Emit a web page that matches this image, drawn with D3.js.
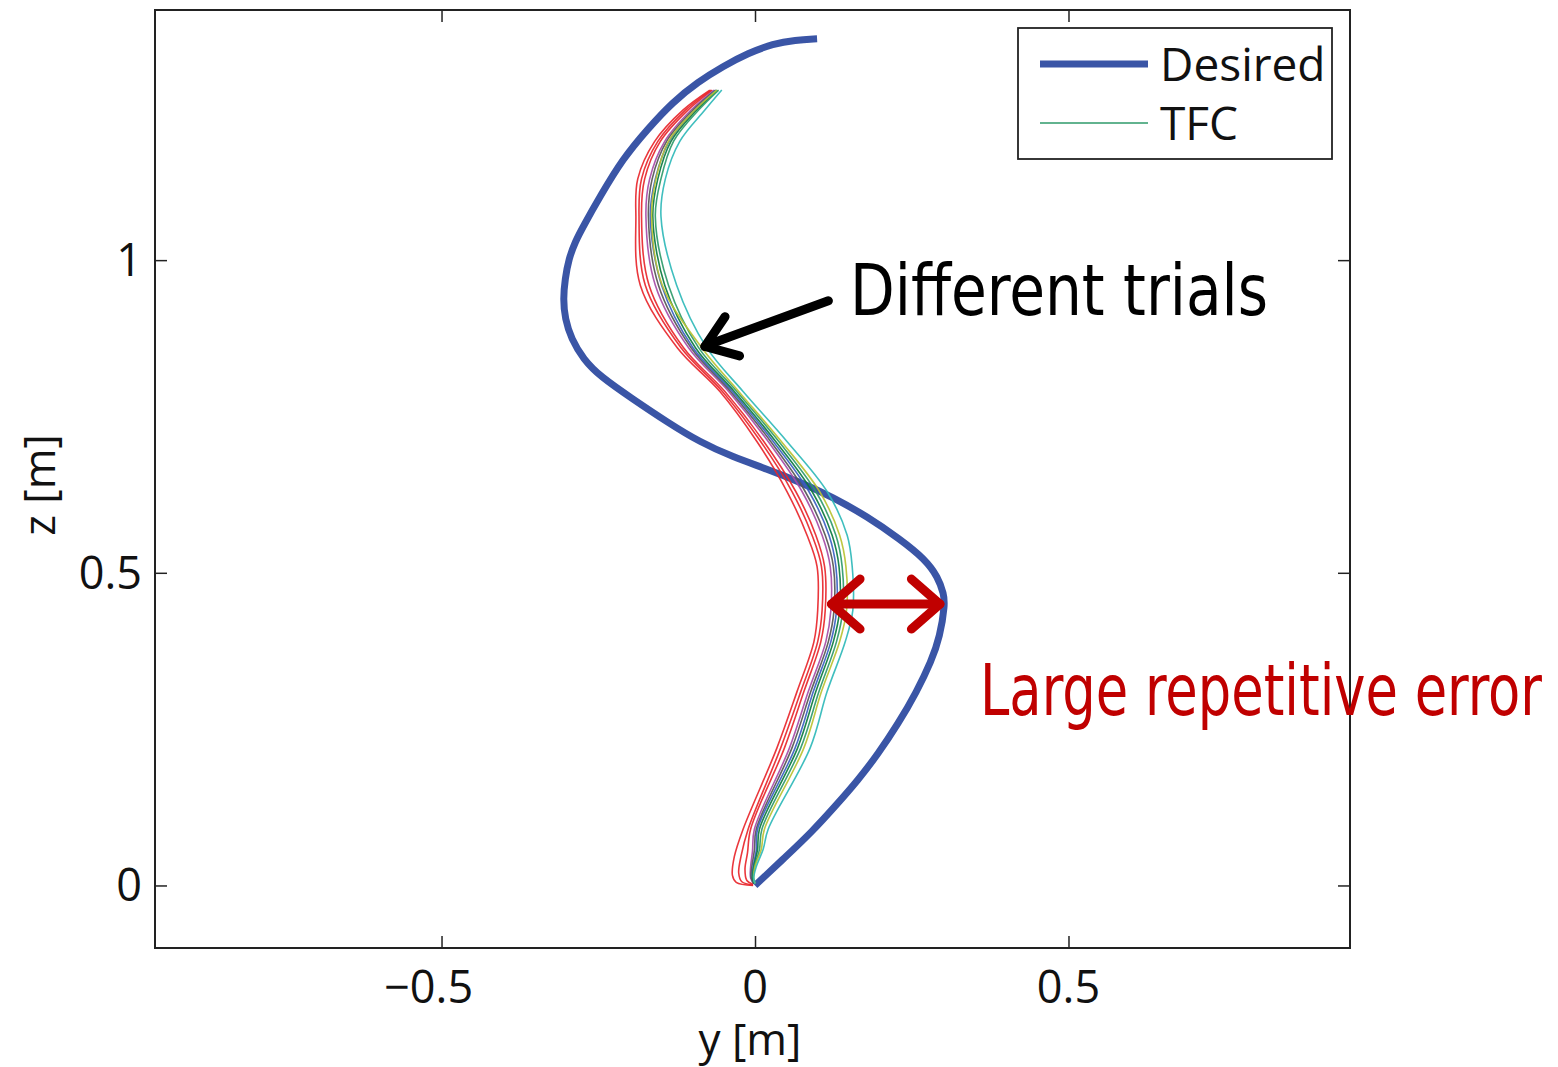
<!DOCTYPE html>
<html>
<head>
<meta charset="utf-8">
<script src="https://cdn.jsdelivr.net/npm/d3@7"></script>
<style>
  html, body { margin: 0; padding: 0; background: #fff; }
  svg { display: block; }
</style>
</head>
<body>
<svg id="chart" width="1558" height="1067"></svg>
<script>
// Desired trajectory in the y-z plane [y, z] (metres)
const desired = [
  [0.000, 0.000], [0.048, 0.045], [0.091, 0.086], [0.129, 0.128], [0.164, 0.168],
  [0.196, 0.210], [0.228, 0.258], [0.258, 0.310], [0.281, 0.358], [0.295, 0.398],
  [0.303, 0.450], [0.301, 0.466], [0.292, 0.493], [0.271, 0.522], [0.231, 0.554],
  [0.179, 0.590], [0.124, 0.621], [0.072, 0.645], [0.019, 0.666], [-0.035, 0.685],
  [-0.088, 0.709], [-0.140, 0.741], [-0.195, 0.778], [-0.247, 0.814], [-0.274, 0.842],
  [-0.293, 0.874], [-0.303, 0.906], [-0.306, 0.938], [-0.303, 0.970], [-0.297, 1.002],
  [-0.287, 1.029], [-0.274, 1.054], [-0.247, 1.102], [-0.211, 1.162], [-0.171, 1.210],
  [-0.131, 1.253], [-0.091, 1.285], [-0.051, 1.310], [-0.011, 1.331], [0.029, 1.346],
  [0.064, 1.352], [0.099, 1.354]
];

// TFC trials: heights shared by all trials, then each trial's y at those heights
const trialZ = [0.09, 0.22, 0.31, 0.39, 0.44, 0.51, 0.56, 0.63, 0.71, 0.79, 0.86, 0.96, 1.07, 1.13, 1.19, 1.24, 1.272];

// start of each trial near the origin (the small hook at the bottom)
const trialStarts = [
  [[-0.003, 0.000], [-0.030, 0.005], [-0.036, 0.016], [-0.033, 0.046]],
  [[-0.003, 0.001], [-0.021, 0.006], [-0.026, 0.020], [-0.022, 0.048]],
  [[-0.003, 0.002], [-0.013, 0.008], [-0.016, 0.026], [-0.012, 0.052]],
  [[-0.002, 0.003], [-0.007, 0.012], [-0.007, 0.030], [-0.004, 0.055]],
  [[-0.002, 0.003], [-0.006, 0.012], [-0.005, 0.030], [-0.001, 0.056]],
  [[-0.001, 0.003], [-0.004, 0.012], [-0.003, 0.030], [0.002, 0.056]],
  [[-0.001, 0.003], [-0.004, 0.012], [-0.002, 0.030], [0.004, 0.057]],
  [[0.000, 0.003], [-0.003, 0.012], [-0.001, 0.030], [0.007, 0.057]],
  [[0.000, 0.003], [-0.002, 0.012], [0.000, 0.030], [0.010, 0.058]],
  [[0.000, 0.003], [-0.002, 0.012], [0.002, 0.030], [0.013, 0.058]]
];

const trialY = [
  [-0.019, 0.035, 0.067, 0.094, 0.100, 0.099, 0.083, 0.051, 0.003, -0.056, -0.124, -0.183, -0.190, -0.187, -0.160, -0.115, -0.072],
  [-0.011, 0.041, 0.073, 0.100, 0.107, 0.106, 0.091, 0.059, 0.009, -0.052, -0.118, -0.175, -0.185, -0.181, -0.155, -0.111, -0.070],
  [-0.007, 0.047, 0.078, 0.105, 0.112, 0.111, 0.097, 0.065, 0.014, -0.048, -0.114, -0.169, -0.181, -0.176, -0.151, -0.107, -0.068],
  [-0.001, 0.055, 0.085, 0.113, 0.121, 0.120, 0.107, 0.075, 0.021, -0.042, -0.106, -0.159, -0.174, -0.168, -0.144, -0.102, -0.065],
  [0.002, 0.059, 0.089, 0.117, 0.126, 0.125, 0.112, 0.080, 0.025, -0.039, -0.102, -0.154, -0.170, -0.164, -0.141, -0.099, -0.063],
  [0.004, 0.064, 0.093, 0.121, 0.130, 0.129, 0.118, 0.086, 0.029, -0.036, -0.099, -0.149, -0.167, -0.159, -0.137, -0.096, -0.062],
  [0.007, 0.068, 0.097, 0.125, 0.135, 0.134, 0.123, 0.091, 0.033, -0.033, -0.095, -0.144, -0.163, -0.155, -0.134, -0.093, -0.060],
  [0.011, 0.073, 0.102, 0.130, 0.140, 0.139, 0.129, 0.097, 0.038, -0.029, -0.090, -0.138, -0.159, -0.150, -0.130, -0.090, -0.058],
  [0.015, 0.078, 0.106, 0.135, 0.146, 0.145, 0.135, 0.103, 0.042, -0.026, -0.085, -0.148, -0.165, -0.158, -0.138, -0.096, -0.061],
  [0.021, 0.088, 0.115, 0.144, 0.156, 0.155, 0.147, 0.115, 0.051, -0.019, -0.077, -0.125, -0.150, -0.143, -0.120, -0.080, -0.053]
];

const trialColors = ["#e8262b", "#e8262b", "#e8262b", "#a64ca6", "#555555", "#3a5fc0", "#0b7a3e", "#2e9a6a", "#b8c232", "#2fb8b8"];

const xTicks = [-0.5, 0, 0.5];
const yTicks = [0, 0.5, 1];
const xTickLabels = ["\u22120.5", "0", "0.5"];
const yTickLabels = ["0", "0.5", "1"];
const legendLabels = ["Desired", "TFC"];

// annotation anchors in data units
const trialsArrow = { from: [0.117, 0.935], to: [-0.080, 0.862] };
const errorArrow = { from: [0.122, 0.450], to: [0.295, 0.450] };

const svg = d3.select("#chart");
const W = 1558, H = 1067;
const m = { left: 155, top: 10, right: W - 1350, bottom: H - 948 };
const pw = W - m.left - m.right, ph = H - m.top - m.bottom;

const x = d3.scaleLinear().domain([-0.957, 0.949]).range([m.left, m.left + pw]);
const y = d3.scaleLinear().domain([-0.1, 1.4]).range([m.top + ph, m.top]);

const tickFont = "'Open Sans', 'Liberation Sans', sans-serif";

// plot area
const plot = svg.append("g");
plot.append("clipPath").attr("id", "clip").append("rect")
  .attr("x", m.left).attr("y", m.top).attr("width", pw).attr("height", ph);

const smoothLine = d3.line().x(d => x(d[0])).y(d => y(d[1])).curve(d3.curveBasis);
const line = d3.line().x(d => x(d[0])).y(d => y(d[1])).curve(d3.curveCatmullRom.alpha(0.5));

const curves = plot.append("g").attr("clip-path", "url(#clip)");

curves.append("path")
  .datum(desired)
  .attr("d", smoothLine)
  .attr("fill", "none")
  .attr("stroke", "#3a55a6")
  .attr("stroke-width", 7)
  .attr("stroke-linecap", "butt")
  .attr("stroke-linejoin", "round");

trialY.forEach((ys, i) => {
  const pts = trialStarts[i].concat(ys.map((v, k) => [v, trialZ[k]]));
  curves.append("path")
    .datum(pts)
    .attr("d", line)
    .attr("fill", "none")
    .attr("stroke", trialColors[i])
    .attr("stroke-width", 1.6)
    .attr("stroke-opacity", 0.92);
});

// axes box with inward ticks on all sides
const axes = svg.append("g");
const tickLen = 12;
const axBottom = d3.axisBottom(x).tickValues(xTicks).tickSize(-tickLen).tickFormat("");
const axTop = d3.axisTop(x).tickValues(xTicks).tickSize(-tickLen).tickFormat("");
const axLeft = d3.axisLeft(y).tickValues(yTicks).tickSize(-tickLen).tickFormat("");
const axRight = d3.axisRight(y).tickValues(yTicks).tickSize(-tickLen).tickFormat("");
[[axBottom, `translate(0,${m.top + ph})`], [axTop, `translate(0,${m.top})`],
 [axLeft, `translate(${m.left},0)`], [axRight, `translate(${m.left + pw},0)`]].forEach(([a, t]) => {
  const g = axes.append("g").attr("transform", t).call(a);
  g.select(".domain").remove();
  g.selectAll(".tick line").attr("stroke", "#222").attr("stroke-width", 1.5);
});
axes.append("rect")
  .attr("x", m.left).attr("y", m.top).attr("width", pw).attr("height", ph)
  .attr("fill", "none").attr("stroke", "#222").attr("stroke-width", 2);

// tick labels; a leading minus hangs to the left of the centred number
axes.selectAll(".xl").data(xTicks).enter().append("text")
  .attr("class", "xl")
  .attr("x", d => x(d)).attr("y", 1003)
  .attr("text-anchor", "middle")
  .attr("font-family", tickFont).attr("font-size", 45).attr("fill", "#111")
  .text((d, i) => xTickLabels[i])
  .each(function () {
    const s = this.textContent;
    if (s.startsWith("\u2212")) {
      const w = this.getSubStringLength(0, 1);
      d3.select(this).attr("x", +d3.select(this).attr("x") - w / 2);
    }
  });
axes.selectAll(".yl").data(yTicks).enter().append("text")
  .attr("class", "yl")
  .attr("x", 142).attr("y", d => y(d) + 16)
  .attr("text-anchor", "end")
  .attr("font-family", tickFont).attr("font-size", 45).attr("fill", "#111")
  .text((d, i) => yTickLabels[i]);

// axis titles
svg.append("text")
  .attr("x", 750).attr("y", 1055)
  .attr("text-anchor", "middle")
  .attr("font-family", tickFont).attr("font-size", 44).attr("fill", "#111")
  .text("y [m]");
svg.append("text")
  .attr("transform", "translate(55,485) rotate(-90)")
  .attr("text-anchor", "middle")
  .attr("font-family", tickFont).attr("font-size", 44).attr("fill", "#111")
  .text("z [m]");

// legend
const lg = svg.append("g");
lg.append("rect").attr("x", 1018).attr("y", 28).attr("width", 314).attr("height", 131)
  .attr("fill", "#fff").attr("stroke", "#222").attr("stroke-width", 1.8);
const legendStyles = [{ c: "#3a55a6", w: 7 }, { c: "#2e9a6a", w: 1.6 }];
legendLabels.forEach((lab, i) => {
  const yy = 64 + i * 59;
  lg.append("line").attr("x1", 1040).attr("x2", 1148).attr("y1", yy).attr("y2", yy)
    .attr("stroke", legendStyles[i].c).attr("stroke-width", legendStyles[i].w);
  lg.append("text").attr("x", 1160).attr("y", yy + 17)
    .attr("font-family", tickFont).attr("font-size", 46).attr("fill", "#111")
    .text(lab);
});

// annotations
const hand = "'Liberation Sans Narrow', 'DejaVu Sans Condensed', sans-serif";
const ann = svg.append("g").attr("stroke-linecap", "round").attr("stroke-linejoin", "round").attr("fill", "none");

function arrowHead(g, tip, from, color, len, spread) {
  const ang = Math.atan2(from[1] - tip[1], from[0] - tip[0]);
  [-spread, spread].forEach(s => {
    g.append("line")
      .attr("x1", tip[0]).attr("y1", tip[1])
      .attr("x2", tip[0] + len * Math.cos(ang + s)).attr("y2", tip[1] + len * Math.sin(ang + s))
      .attr("stroke", color).attr("stroke-width", 9);
  });
}

const ta = [x(trialsArrow.from[0]), y(trialsArrow.from[1])];
const tb = [x(trialsArrow.to[0]), y(trialsArrow.to[1])];
ann.append("line").attr("x1", ta[0]).attr("y1", ta[1]).attr("x2", tb[0] + 4).attr("y2", tb[1] - 2)
  .attr("stroke", "#000").attr("stroke-width", 9);
arrowHead(ann, tb, ta, "#000", 36, 0.62);

const ea = [x(errorArrow.from[0]), y(errorArrow.from[1])];
const eb = [x(errorArrow.to[0]), y(errorArrow.to[1])];
ann.append("line").attr("x1", ea[0] + 4).attr("y1", ea[1]).attr("x2", eb[0] - 4).attr("y2", eb[1])
  .attr("stroke", "#c00000").attr("stroke-width", 9);
arrowHead(ann, ea, eb, "#c00000", 38, 0.72);
arrowHead(ann, eb, ea, "#c00000", 38, 0.72);

svg.append("text")
  .attr("x", 850).attr("y", 315)
  .attr("font-family", hand).attr("font-size", 72).attr("fill", "#000")
  .attr("textLength", 418).attr("lengthAdjust", "spacingAndGlyphs")
  .text("Different trials");
svg.append("text")
  .attr("x", 980).attr("y", 715)
  .attr("font-family", hand).attr("font-size", 72).attr("fill", "#c00000")
  .attr("textLength", 562).attr("lengthAdjust", "spacingAndGlyphs")
  .text("Large repetitive error");
</script>
</body>
</html>
